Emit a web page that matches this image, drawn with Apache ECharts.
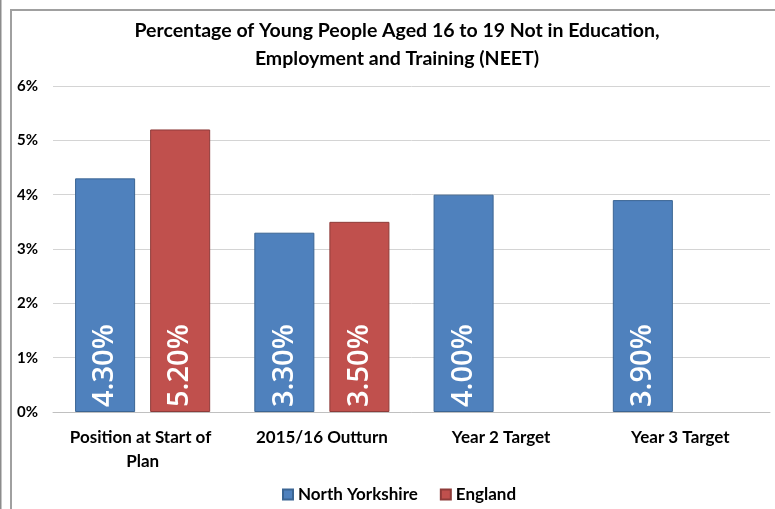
<!DOCTYPE html>
<html>
<head>
<meta charset="utf-8">
<script src="https://cdn.jsdelivr.net/npm/echarts@6/dist/echarts.min.js"></script>
<style>
html,body{margin:0;padding:0;background:#fff;}
#c{width:775px;height:509px;}
</style>
</head>
<body>
<div id="c"></div>
<script>
var titleText = "Percentage of Young People Aged 16 to 19 Not in Education,\nEmployment and Training (NEET)";
var categories = ["Position at Start of Plan", "2015/16 Outturn", "Year 2 Target", "Year 3 Target"];
var northYorkshire = [4.3, 3.3, 4.0, 3.9];
var england = [5.2, 3.5, null, null];
var yTicks = [0, 1, 2, 3, 4, 5, 6];
var seriesNames = ["North Yorkshire", "England"];

var FONT = "Lato, 'Open Sans', sans-serif";
var chart = echarts.init(document.getElementById('c'), null, {renderer: 'canvas'});

function barLabel() {
  return {
    show: true,
    position: 'insideBottom',
    distance: 5,
    rotate: 90,
    align: 'left',
    verticalAlign: 'middle',
    color: '#ffffff',
    fontFamily: "'Open Sans', sans-serif",
    fontWeight: 600,
    fontSize: 29,
    formatter: function (p) { return p.value == null ? '' : p.value.toFixed(2) + '%'; }
  };
}

chart.setOption({
  backgroundColor: '#ffffff',
  animation: false,
  graphic: [
    {type: 'rect', shape: {x: 0, y: 0, width: 1.5, height: 509}, style: {fill: '#8c8c8c'}, silent: true},
    {type: 'rect', shape: {x: 11, y: 10, width: 800, height: 600}, style: {fill: 'none', stroke: '#a0a0a0', lineWidth: 2}, silent: true}
  ],
  title: {
    text: titleText,
    left: 392,
    textAlign: 'center',
    top: 12,
    textStyle: {fontFamily: FONT, fontWeight: 'bold', fontSize: 19.5, color: '#000', lineHeight: 28}
  },
  legend: {
    data: seriesNames,
    left: 277,
    top: 481,
    itemWidth: 10,
    itemHeight: 10,
    itemGap: 22,
    icon: 'rect',
    textStyle: {fontFamily: FONT, fontWeight: 'bold', fontSize: 17, color: '#000'}
  },
  grid: {left: 53, right: 5, top: 86, bottom: 97, containLabel: false},
  xAxis: {
    type: 'category',
    data: categories,
    axisLine: {show: true, lineStyle: {color: '#c0c0c0', width: 1}},
    axisTick: {show: false},
    axisLabel: {
      interval: 0,
      margin: 14,
      width: 160,
      overflow: 'break',
      lineHeight: 24,
      fontFamily: FONT, fontWeight: 'bold', fontSize: 17, color: '#000'
    }
  },
  yAxis: {
    type: 'value',
    min: yTicks[0],
    max: yTicks[yTicks.length - 1],
    interval: 1,
    axisLine: {show: false},
    axisTick: {show: false},
    splitLine: {show: true, lineStyle: {color: '#d4d4d4', width: 1}},
    axisLabel: {
      margin: 15,
      formatter: function (v) { return v + '%'; },
      fontFamily: FONT, fontWeight: 'bold', fontSize: 15, color: '#000'
    }
  },
  series: [
    {
      name: seriesNames[0],
      type: 'bar',
      data: northYorkshire,
      barWidth: '33.5%',
      barGap: '25%',
      itemStyle: {color: '#4F81BD', borderColor: '#3B6593', borderWidth: 1},
      label: barLabel()
    },
    {
      name: seriesNames[1],
      type: 'bar',
      data: england,
      barWidth: '33.5%',
      itemStyle: {color: '#C0504D', borderColor: '#8E3B39', borderWidth: 1},
      label: barLabel()
    }
  ]
});
</script>
</body>
</html>
